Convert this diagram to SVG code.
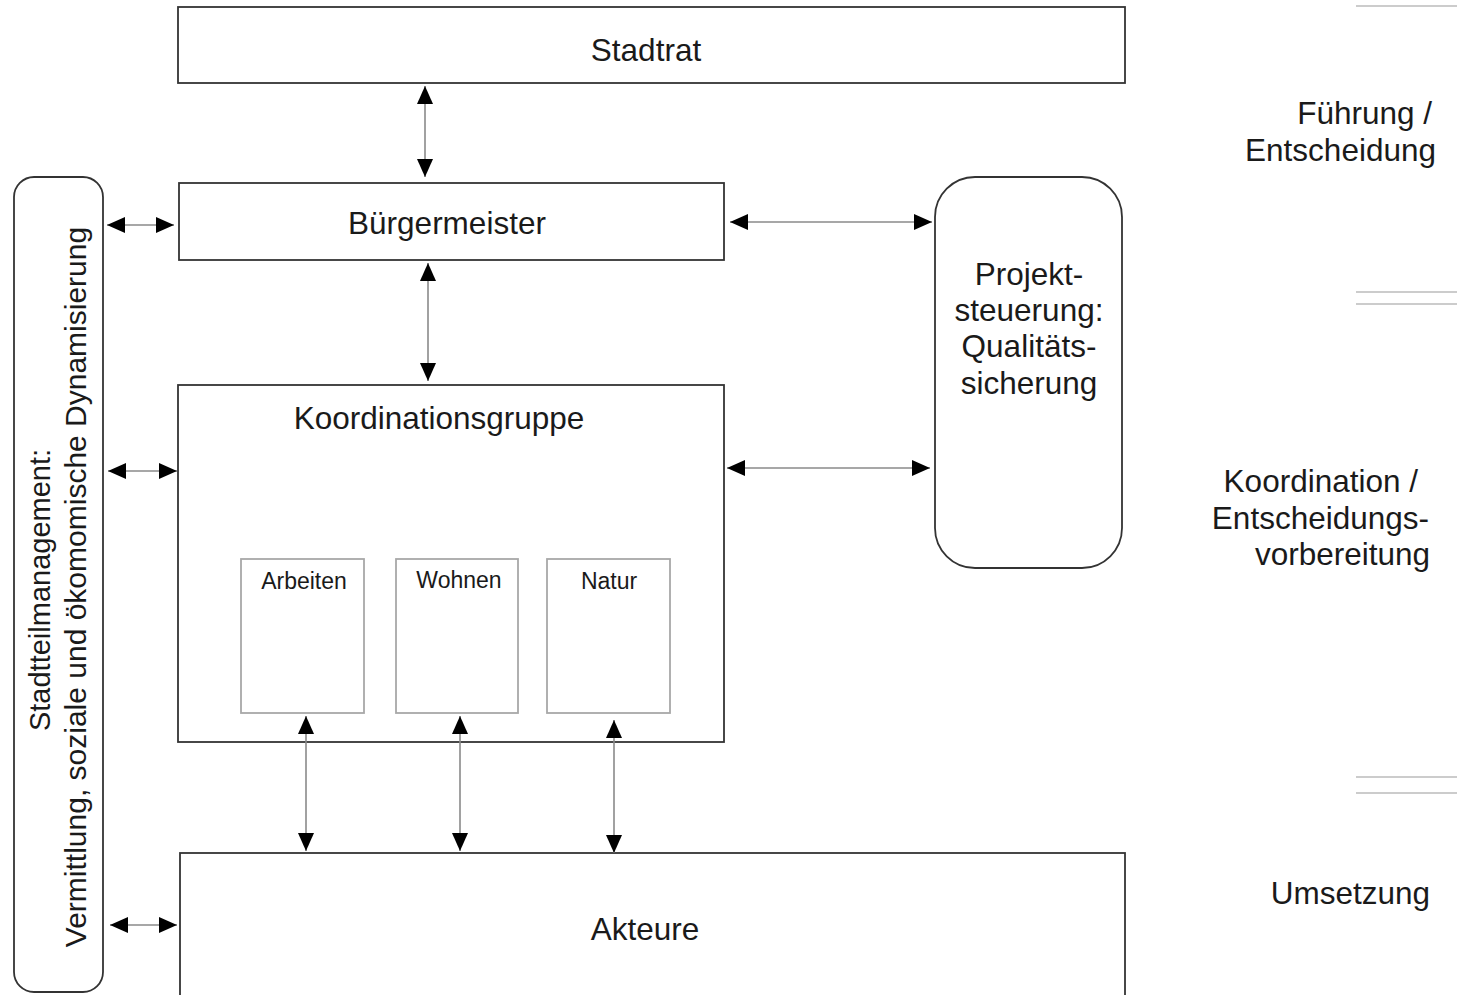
<svg xmlns="http://www.w3.org/2000/svg" width="1457" height="995" viewBox="0 0 1457 995">
<style>
.box{fill:#fff;stroke:#333;stroke-width:1.8}
.sub{fill:#fff;stroke:#a8a8a8;stroke-width:1.8}
.t{font-family:"Liberation Sans",Arial,sans-serif;font-size:31.5px;fill:#1a1a1a;text-anchor:middle}
.v{font-family:"Liberation Sans",Arial,sans-serif;fill:#1a1a1a;text-anchor:middle}
.s{font-family:"Liberation Sans",Arial,sans-serif;font-size:23px;fill:#1a1a1a;text-anchor:middle}
.r{font-family:"Liberation Sans",Arial,sans-serif;font-size:31.5px;fill:#1a1a1a;text-anchor:end}
.c{stroke:#8a8a8a;stroke-width:1.6;fill:none;marker-start:url(#a);marker-end:url(#a)}
.sep{stroke:#cccccc;stroke-width:2}
</style>
<defs>
<marker id="a" viewBox="0 0 18 16" refX="18" refY="8" markerWidth="18" markerHeight="16" markerUnits="userSpaceOnUse" orient="auto-start-reverse">
<path d="M0,0 L18,8 L0,16 Z" fill="#000"/>
</marker>
</defs>
<rect width="1457" height="995" fill="#fff"/>
<g id="separators">
<line class="sep" x1="1356" y1="6" x2="1457" y2="6"/>
<line class="sep" x1="1356" y1="292" x2="1457" y2="292"/>
<line class="sep" x1="1356" y1="304" x2="1457" y2="304"/>
<line class="sep" x1="1356" y1="777" x2="1457" y2="777"/>
<line class="sep" x1="1356" y1="793" x2="1457" y2="793"/>
</g>
<g id="stadtrat"><rect class="box" x="178" y="7" width="947" height="76"/><text class="t" x="646" y="61">Stadtrat</text></g>
<g id="buergermeister"><rect class="box" x="179" y="183" width="545" height="77"/><text class="t" x="447" y="234">Bürgermeister</text></g>
<g id="koordinationsgruppe"><rect class="box" x="178" y="385" width="546" height="357"/><text class="t" x="439" y="429">Koordinationsgruppe</text></g>
<g id="arbeiten"><rect class="sub" x="241" y="559" width="123" height="154"/><text class="s" x="304" y="589">Arbeiten</text></g>
<g id="wohnen"><rect class="sub" x="396" y="559" width="122" height="154"/><text class="s" x="459" y="588">Wohnen</text></g>
<g id="natur"><rect class="sub" x="547" y="559" width="123" height="154"/><text class="s" x="609" y="589">Natur</text></g>
<g id="akteure"><rect class="box" x="180" y="853" width="945" height="150"/><text class="t" x="645" y="940">Akteure</text></g>
<g id="projektsteuerung"><rect class="box" x="935" y="177" width="187" height="391" rx="40" ry="40"/>
<text class="t" x="1029" y="285">Projekt-</text>
<text class="t" x="1029" y="321">steuerung:</text>
<text class="t" x="1029" y="357">Qualitäts-</text>
<text class="t" x="1029" y="394">sicherung</text></g>
<g id="stadtteilmanagement"><rect class="box" x="14" y="177" width="89" height="815" rx="20" ry="20"/>
<text class="v" font-size="29" transform="translate(50,590) rotate(-90)">Stadtteilmanagement:</text>
<text class="v" font-size="30" transform="translate(86,587) rotate(-90)">Vermittlung, soziale und ökomomische Dynamisierung</text></g>
<g id="ebenen">
<text class="r" x="1432" y="124">Führung /</text>
<text class="r" x="1436" y="161">Entscheidung</text>
<text class="r" x="1418" y="492">Koordination /</text>
<text class="r" x="1429" y="529">Entscheidungs-</text>
<text class="r" x="1430" y="565">vorbereitung</text>
<text class="r" x="1430" y="904">Umsetzung</text>
</g>
<g id="connectors">
<line class="c" x1="425" y1="86" x2="425" y2="177"/>
<line class="c" x1="428" y1="263" x2="428" y2="381"/>
<line class="c" x1="107" y1="225" x2="174" y2="225"/>
<line class="c" x1="108" y1="471" x2="177" y2="471"/>
<line class="c" x1="110" y1="925" x2="177" y2="925"/>
<line class="c" x1="730" y1="222" x2="932" y2="222"/>
<line class="c" x1="727" y1="468" x2="930" y2="468"/>
<line class="c" x1="306" y1="716" x2="306" y2="851"/>
<line class="c" x1="460" y1="716" x2="460" y2="851"/>
<line class="c" x1="614" y1="720" x2="614" y2="853"/>
</g>
</svg>
